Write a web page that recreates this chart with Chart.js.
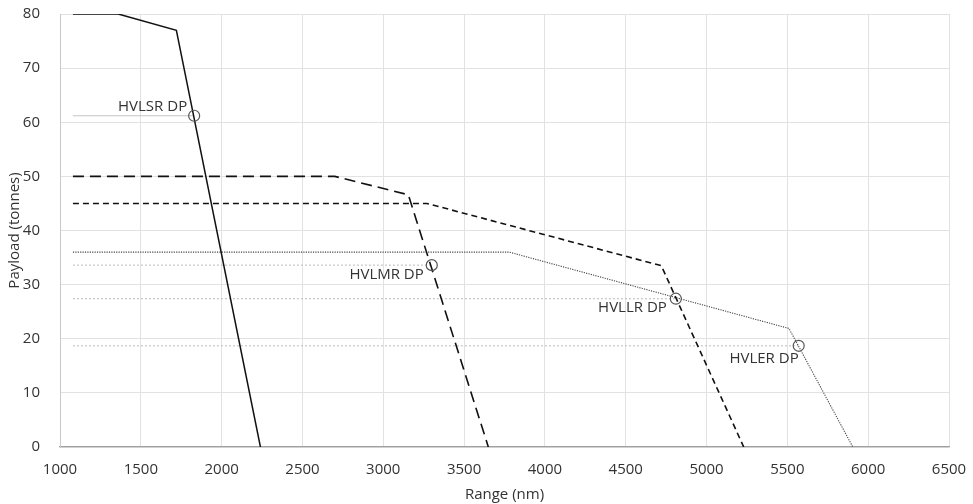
<!DOCTYPE html>
<html>
<head>
<meta charset="utf-8">
<script src="https://cdn.jsdelivr.net/npm/chart.js@4.4.1/dist/chart.umd.min.js"></script>
<style>
html,body{margin:0;padding:0;background:#fff;}
#wrap{width:973px;height:504px;position:relative;}
</style>
</head>
<body>
<div id="wrap"><canvas id="c" width="973" height="504"></canvas></div>
<script>
// ---- data ----
const xTicks = [1000,1500,2000,2500,3000,3500,4000,4500,5000,5500,6000,6500];
const yTicks = [0,10,20,30,40,50,60,70,80];

const hvlsrRange   = [1080, 1360, 1720, 2240];
const hvlsrPayload = [80, 80, 77, 0];

const hvlmrRange   = [1080, 2700, 3155, 3650];
const hvlmrPayload = [50, 50, 46.6, 0];

const hvllrRange   = [1080, 3270, 4720, 5230];
const hvllrPayload = [45, 45, 33.5, 0];

const hvlerRange   = [1080, 3780, 5510, 5905];
const hvlerPayload = [36, 36, 21.9, 0];

const dpLabels  = ['HVLSR DP', 'HVLMR DP', 'HVLLR DP', 'HVLER DP'];
const dpRange   = [1830, 3300, 4810, 5570];
const dpPayload = [61.2, 33.6, 27.4, 18.7];
const dpLineStart = 1080;

// ---- build chart ----
const FONT = "'Open Sans', 'DejaVu Sans', sans-serif";
const FS = 15;
const pts = (xs, ys) => xs.map((x, i) => ({x: x, y: ys[i]}));

const dpLineSets = dpRange.map((r, i) => ({
  label: dpLabels[i] + ' line',
  data: [{x: dpLineStart, y: dpPayload[i]}, {x: r, y: dpPayload[i]}],
  showLine: true, borderColor: '#c4c4c4', borderWidth: 1.2,
  borderDash: i === 0 ? [] : [2, 2], pointRadius: 0, order: 5
}));

const curve = (label, xs, ys, dash, color, w) => ({
  label: label, data: pts(xs, ys), showLine: true, borderColor: color,
  borderWidth: w, borderDash: dash, pointRadius: 0, tension: 0, order: 2
});

const datasets = [
  ...dpLineSets,
  curve('HVLSR', hvlsrRange, hvlsrPayload, [], '#111', 1.5),
  curve('HVLMR', hvlmrRange, hvlmrPayload, [11, 6], '#111', 1.6),
  curve('HVLLR', hvllrRange, hvllrPayload, [6, 4], '#111', 1.6),
  curve('HVLER', hvlerRange, hvlerPayload, [1.2, 1.2], '#444', 1.1),
  {
    label: 'Design points', data: pts(dpRange, dpPayload), showLine: false,
    pointRadius: 5.5, pointBorderColor: '#555', pointBackgroundColor: 'rgba(0,0,0,0)',
    pointBorderWidth: 1.2, order: 1
  }
];

// label offsets (pixels from the design-point marker): dx to right edge of text, dy to text centre
const dpLabelOffsets = [[-7, -9], [-8, 10], [-9, 9], [0, 13]];

const dpLabelPlugin = {
  id: 'dpLabels',
  afterDatasetsDraw(chart) {
    const ctx = chart.ctx;
    const xs = chart.scales.x, ys = chart.scales.y;
    ctx.save();
    ctx.font = FS + "px " + FONT;
    ctx.fillStyle = '#333';
    ctx.textAlign = 'right';
    ctx.textBaseline = 'middle';
    dpLabels.forEach((t, i) => {
      const px = xs.getPixelForValue(dpRange[i]);
      const py = ys.getPixelForValue(dpPayload[i]);
      ctx.fillText(t, px + dpLabelOffsets[i][0], py + dpLabelOffsets[i][1]);
    });
    ctx.restore();
  }
};

new Chart(document.getElementById('c'), {
  type: 'scatter',
  data: {datasets: datasets},
  plugins: [dpLabelPlugin],
  options: {
    responsive: false,
    animation: false,
    devicePixelRatio: 1,
    layout: {padding: {top: 14, right: 24, left: 0, bottom: 0}},
    plugins: {legend: {display: false}, tooltip: {enabled: false}},
    scales: {
      x: {
        type: 'linear', min: 1000, max: 6500,
        afterBuildTicks: s => { s.ticks = xTicks.map(v => ({value: v})); },
        afterFit: s => { s.height = 57; },
        ticks: {font: {family: FONT, size: FS}, color: '#333', padding: 2, maxRotation: 0, callback: v => String(v)},
        grid: {color: '#e2e2e2', drawTicks: true, tickLength: 12, tickColor: 'rgba(0,0,0,0)'},
        border: {color: '#a0a0a0', width: 1.2},
        title: {display: true, text: 'Range (nm)', font: {family: FONT, size: FS}, color: '#333', padding: {top: 0, bottom: 0}}
      },
      y: {
        type: 'linear', min: 0, max: 80,
        afterBuildTicks: s => { s.ticks = yTicks.map(v => ({value: v})); },
        afterFit: s => { s.width = 60; },
        ticks: {font: {family: FONT, size: FS}, color: '#333', padding: 2, callback: v => String(v)},
        grid: {color: '#e2e2e2', drawTicks: true, tickLength: 18, tickColor: 'rgba(0,0,0,0)'},
        border: {color: '#c8c8c8', width: 1},
        title: {display: true, text: 'Payload (tonnes)', font: {family: FONT, size: FS}, color: '#333', padding: {top: 6, bottom: 0}}
      }
    }
  }
});
</script>
</body>
</html>
